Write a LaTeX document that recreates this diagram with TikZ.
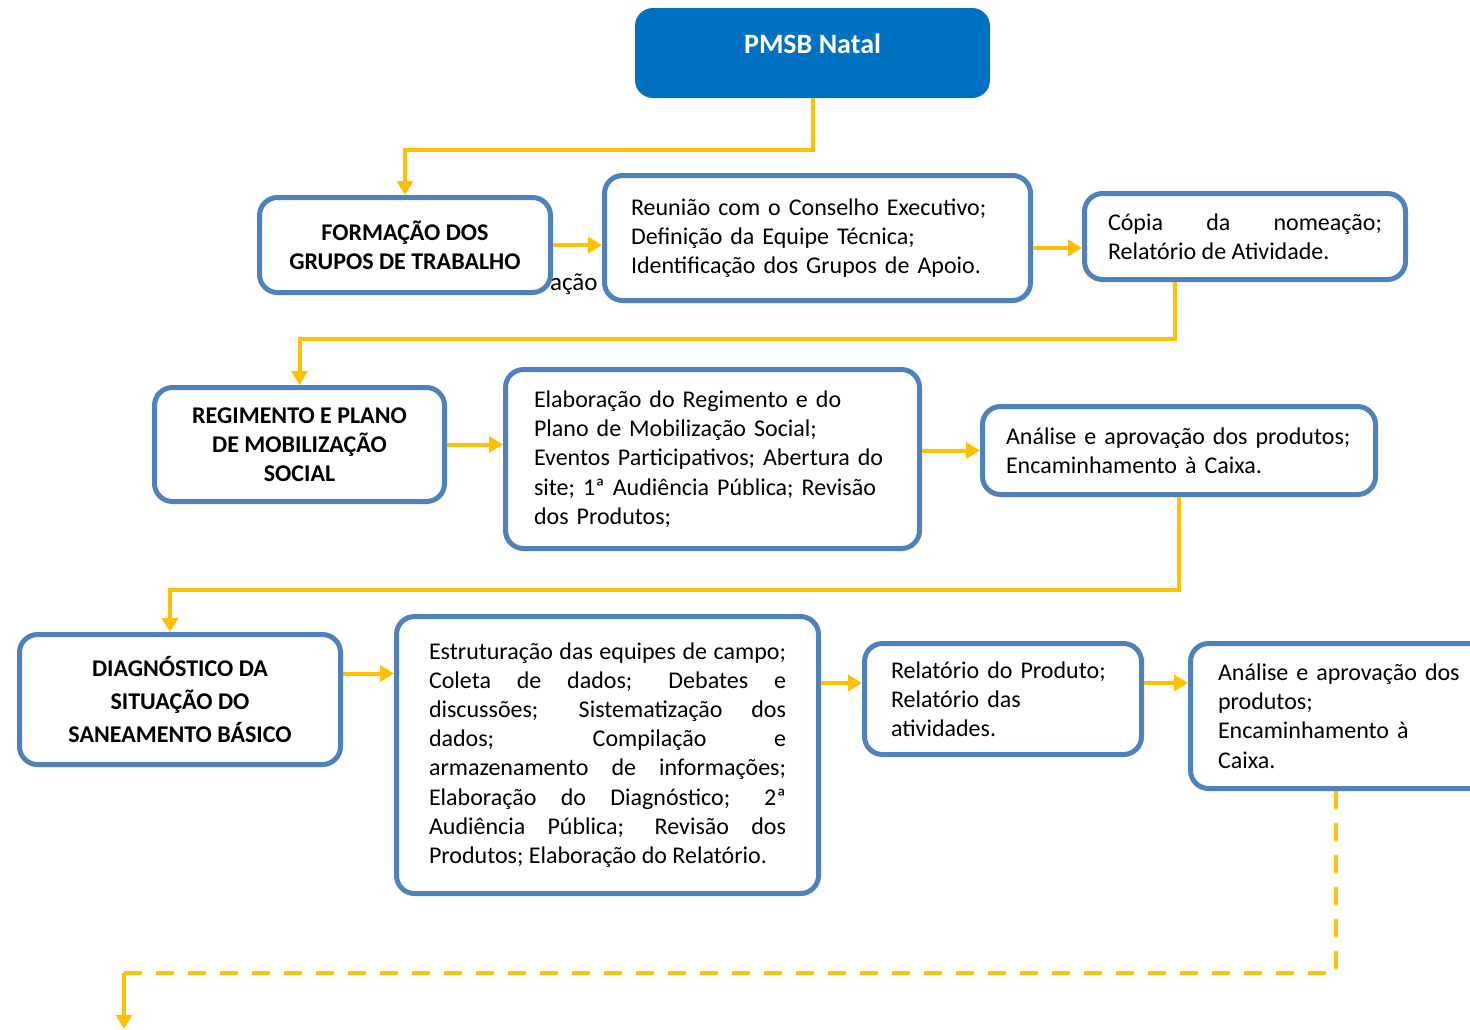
\documentclass[tikz,border=0pt]{standalone}
\usepackage{fontspec}
\setmainfont{Carlito}
\usetikzlibrary{arrows.meta}
\definecolor{azulpmsb}{HTML}{0070C0}
\definecolor{azulborda}{HTML}{4F81BD}
\definecolor{amarelo}{HTML}{FFC000}
\tikzset{
  bloco/.style={draw=azulborda, line width=2.5pt, rounded corners=9pt, fill=white, inner sep=0pt, font=\fontsize{12}{14.6}\selectfont},
  etapa/.style={bloco, font=\fontsize{12}{14.6}\selectfont\bfseries, align=center},
  tarefa/.style={bloco, align=left},
  seta/.style={amarelo, line width=2pt, -{Triangle[width=8pt,length=7pt]}},
}
\begin{document}
\begin{tikzpicture}[x=0.5pt, y=-0.5pt]
	\useasboundingbox (0,0) rectangle (1470,1029);
	
	\node[fill=azulpmsb, rounded corners=9pt, minimum width=177.5pt, minimum height=45pt, text height=10pt, text depth=10pt, inner sep=0pt, text=white, font=\fontsize{14}{17}\selectfont\bfseries] (pmsb) at (812.5,53) {PMSB Natal};
	
	% texto solto por baixo da primeira etapa
	\node[anchor=base east, inner sep=0pt, font=\fontsize{12.5}{14.6}\selectfont] (resto) at (598,290) {ação};
	
	% Linha 1
	\node[etapa, minimum width=145.5pt, minimum height=47.5pt] (formacao) at (405,245) {FORMAÇÃO DOS\\GRUPOS DE TRABALHO};
	\node[tarefa, minimum width=213pt, minimum height=62.5pt, text width=186.5pt] (reuniao) at (817.5,238) {Reunião com o Conselho Executivo;\\Definição da Equipe Técnica;\\Identificação dos Grupos de Apoio.};
	\node[tarefa, align=justify, minimum width=160.5pt, minimum height=43pt, text width=137pt] (copia) at (1245,236.5) {Cópia da nomeação;\linebreak Relatório de Atividade.};
	
	% Linha 2
	\node[etapa, minimum width=145pt, minimum height=57pt] (regimento) at (299.5,444.5) {REGIMENTO E PLANO\\DE MOBILIZAÇÃO\\SOCIAL};
	\node[tarefa, minimum width=207pt, minimum height=89.5pt, text width=178.5pt] (elaboracao) at (712.5,459) {Elaboração do Regimento e do\\Plano de Mobilização Social;\\Eventos Participativos; Abertura do\\site; 1ª Audiência Pública; Revisão\\dos Produtos;};
	\node[tarefa, minimum width=196.5pt, minimum height=44pt, text width=173pt] (aprov1) at (1179,450.5) {Análise e aprovação dos produtos;\\Encaminhamento à Caixa.};
	
	% Linha 3
	\node[etapa, font=\fontsize{12}{16.5}\selectfont\bfseries, minimum width=160.5pt, minimum height=65pt] (diagnostico) at (180,699.5) {DIAGNÓSTICO DA\\SITUAÇÃO DO\\SANEAMENTO BÁSICO};
	\node[tarefa, align=justify, minimum width=211pt, minimum height=138.5pt, text width=178.5pt] (estruturacao) at (607.5,755) {Estruturação das equipes de campo;\linebreak Coleta de dados; Debates e\linebreak discussões; Sistematização dos\linebreak dados; Compilação e\linebreak armazenamento de informações;\linebreak Elaboração do Diagnóstico; 2ª\linebreak Audiência Pública; Revisão dos\linebreak Produtos; Elaboração do Relatório.};
	\node[tarefa, minimum width=138.5pt, minimum height=55.5pt, text width=112pt] (relatorio) at (1003,699) {Relatório do Produto;\\Relatório das\\atividades.};
	\node[tarefa, minimum width=153.5pt, minimum height=72.5pt, text width=126pt] (aprov2) at (1344,716) {Análise e aprovação dos\\produtos;\\Encaminhamento à\\Caixa.};
	
	\coordinate (canto) at (124,973);
	\coordinate (fim) at (124,1029);
	
	% Setas entre as linhas
	\draw[seta] (pmsb.south) -- ++(0,52) -| (formacao.north);
	\draw[seta] ([xshift=-35pt]copia.south) -- ++(0,57) -| (regimento.north);
	\draw[seta] (aprov1.south) -- ++(0,93) -| ([xshift=-5pt]diagnostico.north);
	
	% Setas dentro das linhas
	\draw[seta] (formacao.east) -- (formacao.east -| reuniao.west);
	\draw[seta] ([yshift=-5pt]reuniao.east) -- ([yshift=-5pt]reuniao.east -| copia.west);
	\draw[seta] (regimento.east) -- (regimento.east -| elaboracao.west);
	\draw[seta] (elaboracao.east |- aprov1.west) -- (aprov1.west);
	\draw[seta] ([yshift=13pt]diagnostico.east) -- ([yshift=13pt]diagnostico.east -| estruturacao.west);
	\draw[seta] ([yshift=8pt]estruturacao.east |- relatorio.west) -- ([yshift=8pt]relatorio.west);
	\draw[seta] ([yshift=8pt]relatorio.east) -- ([yshift=8pt]relatorio.east -| aprov2.west);
	
	% Continuação tracejada
	\draw[amarelo, line width=2pt, dash pattern=on 9pt off 7pt] ([xshift=-4pt]aprov2.south) |- (canto);
	\draw[seta] (canto) -- (fim);
\end{tikzpicture}
\end{document}
